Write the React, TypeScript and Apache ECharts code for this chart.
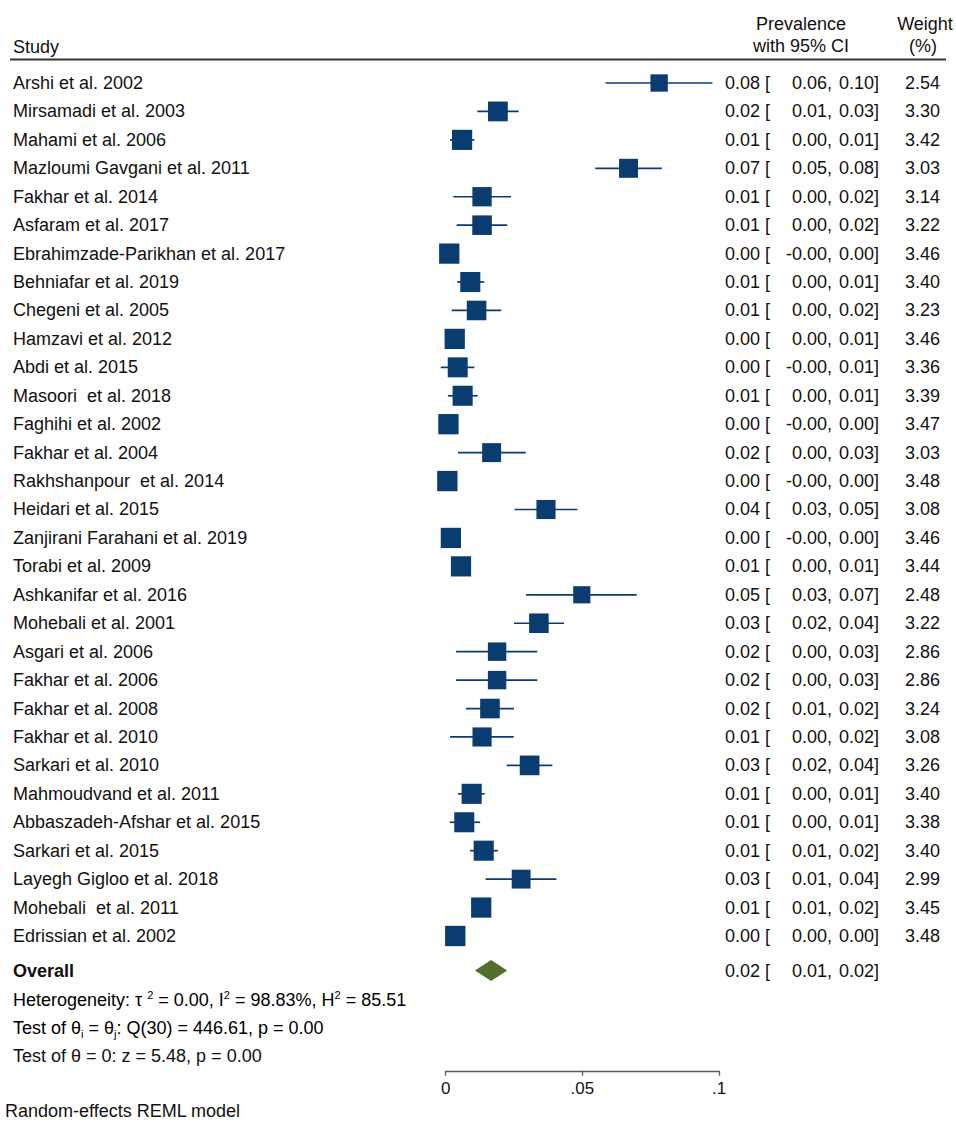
import React, { useEffect, useRef } from 'react';
import * as echarts from 'echarts';

const studies = [
  'Arshi et al. 2002',
  'Mirsamadi et al. 2003',
  'Mahami et al. 2006',
  'Mazloumi Gavgani et al. 2011',
  'Fakhar et al. 2014',
  'Asfaram et al. 2017',
  'Ebrahimzade-Parikhan et al. 2017',
  'Behniafar et al. 2019',
  'Chegeni et al. 2005',
  'Hamzavi et al. 2012',
  'Abdi et al. 2015',
  'Masoori  et al. 2018',
  'Faghihi et al. 2002',
  'Fakhar et al. 2004',
  'Rakhshanpour  et al. 2014',
  'Heidari et al. 2015',
  'Zanjirani Farahani et al. 2019',
  'Torabi et al. 2009',
  'Ashkanifar et al. 2016',
  'Mohebali et al. 2001',
  'Asgari et al. 2006',
  'Fakhar et al. 2006',
  'Fakhar et al. 2008',
  'Fakhar et al. 2010',
  'Sarkari et al. 2010',
  'Mahmoudvand et al. 2011',
  'Abbaszadeh-Afshar et al. 2015',
  'Sarkari et al. 2015',
  'Layegh Gigloo et al. 2018',
  'Mohebali  et al. 2011',
  'Edrissian et al. 2002',
];

const estimates = [
  0.0781, 0.0191, 0.006, 0.0669, 0.0133, 0.0133, 0.0013, 0.009, 0.0113, 0.0033,
  0.0044, 0.0062, 0.001, 0.0168, 0.0006, 0.0367, 0.0019, 0.0056, 0.0498, 0.0341,
  0.0188, 0.0188, 0.0162, 0.0133, 0.0307, 0.0095, 0.0068, 0.0139, 0.0276, 0.013,
  0.0035,
];
const lowerCI = [
  0.0585, 0.0116, 0.0016, 0.0547, 0.0028, 0.004, -0.0004, 0.0042, 0.0022, 0.0005,
  -0.0018, 0.0008, -0.0005, 0.0045, -0.0004, 0.0252, -0.0004, 0.002, 0.0294, 0.025,
  0.0038, 0.0038, 0.0074, 0.0016, 0.0223, 0.0045, 0.0015, 0.0089, 0.0146, 0.01,
  0.001,
];
const upperCI = [
  0.0976, 0.0267, 0.0105, 0.0791, 0.0239, 0.0225, 0.003, 0.0141, 0.0203, 0.0062,
  0.0105, 0.0117, 0.0025, 0.0293, 0.0016, 0.0482, 0.0042, 0.0092, 0.0699, 0.0433,
  0.0335, 0.0335, 0.025, 0.0249, 0.039, 0.0143, 0.0126, 0.0191, 0.0405, 0.016,
  0.006,
];
const weights = [
  2.54, 3.3, 3.42, 3.03, 3.14, 3.22, 3.46, 3.4, 3.23, 3.46, 3.36, 3.39, 3.47, 3.03,
  3.48, 3.08, 3.46, 3.44, 2.48, 3.22, 2.86, 2.86, 3.24, 3.08, 3.26, 3.4, 3.38, 3.4,
  2.99, 3.45, 3.48,
];

const estLabels = [
  '0.08', '0.02', '0.01', '0.07', '0.01', '0.01', '0.00', '0.01', '0.01', '0.00',
  '0.00', '0.01', '0.00', '0.02', '0.00', '0.04', '0.00', '0.01', '0.05', '0.03',
  '0.02', '0.02', '0.02', '0.01', '0.03', '0.01', '0.01', '0.01', '0.03', '0.01',
  '0.00',
];
const lowerLabels = [
  '0.06', '0.01', '0.00', '0.05', '0.00', '0.00', '-0.00', '0.00', '0.00', '0.00',
  '-0.00', '0.00', '-0.00', '0.00', '-0.00', '0.03', '-0.00', '0.00', '0.03', '0.02',
  '0.00', '0.00', '0.01', '0.00', '0.02', '0.00', '0.00', '0.01', '0.01', '0.01',
  '0.00',
];
const upperLabels = [
  '0.10', '0.03', '0.01', '0.08', '0.02', '0.02', '0.00', '0.01', '0.02', '0.01',
  '0.01', '0.01', '0.00', '0.03', '0.00', '0.05', '0.00', '0.01', '0.07', '0.04',
  '0.03', '0.03', '0.02', '0.02', '0.04', '0.01', '0.01', '0.02', '0.04', '0.02',
  '0.00',
];
const weightLabels = [
  '2.54', '3.30', '3.42', '3.03', '3.14', '3.22', '3.46', '3.40', '3.23', '3.46',
  '3.36', '3.39', '3.47', '3.03', '3.48', '3.08', '3.46', '3.44', '2.48', '3.22',
  '2.86', '2.86', '3.24', '3.08', '3.26', '3.40', '3.38', '3.40', '2.99', '3.45',
  '3.48',
];

// overall: lower, estimate, upper
const overallValues = [0.0107, 0.0166, 0.0225];
const overallLabels = ['0.02', '0.01', '0.02'];

const xTicks = [0, 0.05, 0.1];
const xTickLabels = ['0', '.05', '.1'];

const FONT = "'Liberation Sans', Arial, sans-serif";
const NAVY = '#0a3c70';
const OLIVE = '#52702b';

const GRID_LEFT = 445.7;
const GRID_WIDTH = 273.3;
const GRID_TOP = 54.57;
const ROW_STEP = 28.433;
const Y_MAX = 35.74;
const OVERALL_ROW = 32.21;
const rowY = (i: number) => GRID_TOP + i * ROW_STEP;

const txt = (
  text: string,
  x: number,
  y: number,
  align: string = 'left',
  extra: any = {}
) => ({
  type: 'text',
  x,
  y,
  silent: true,
  style: {
    text,
    fontSize: 18,
    fontFamily: FONT,
    fill: '#111',
    align,
    verticalAlign: 'middle',
    ...extra,
  },
});

const richStyles = {
  t: { fontSize: 18, fontFamily: FONT, color: '#111', lineHeight: 22 },
  sup: { fontSize: 11, fontFamily: FONT, color: '#111', lineHeight: 12, verticalAlign: 'top' },
  sub: { fontSize: 11, fontFamily: FONT, color: '#111', lineHeight: 12, verticalAlign: 'bottom' },
};

export default function App() {
  const ref = useRef<HTMLDivElement>(null);

  useEffect(() => {
    if (!ref.current) return;
    const chart = echarts.init(ref.current, undefined, { renderer: 'svg' });

    const squareData = estimates.map((e, i) => [e, i + 1, weights[i]]);
    const whiskerData = estimates.map((_, i) => [lowerCI[i], upperCI[i], i + 1]);

    const graphics: any[] = [];
    // header
    graphics.push(txt('Study', 13, 47));
    graphics.push(txt('Prevalence', 801, 24, 'center'));
    graphics.push(txt('with 95% CI', 801, 46, 'center'));
    graphics.push(txt('Weight', 925, 24, 'center'));
    graphics.push(txt('(%)', 923, 46, 'center'));
    graphics.push({
      type: 'line',
      silent: true,
      shape: { x1: 10, y1: 59.5, x2: 946, y2: 59.5 },
      style: { stroke: '#333', lineWidth: 2 },
    });

    studies.forEach((s, i) => {
      const y = rowY(i + 1);
      graphics.push(txt(s, 13, y));
      graphics.push(txt(estLabels[i] + ' [', 725, y));
      graphics.push(txt(lowerLabels[i] + ',', 832, y, 'right'));
      graphics.push(txt(upperLabels[i] + ']', 879, y, 'right'));
      graphics.push(txt(weightLabels[i], 940, y, 'right'));
    });

    const oy = rowY(OVERALL_ROW) + 1;
    graphics.push(txt('Overall', 13, oy, 'left', { fontWeight: 'bold' }));
    graphics.push(txt(overallLabels[0] + ' [', 725, oy));
    graphics.push(txt(overallLabels[1] + ',', 832, oy, 'right'));
    graphics.push(txt(overallLabels[2] + ']', 879, oy, 'right'));

    graphics.push({
      type: 'text',
      x: 13,
      y: 1000,
      silent: true,
      style: {
        text:
          '{t|Heterogeneity: τ }{sup|2}{t| = 0.00, I}{sup|2}{t| = 98.83%, H}{sup|2}{t| = 85.51}',
        rich: richStyles,
        verticalAlign: 'middle',
        align: 'left',
      },
    });
    graphics.push({
      type: 'text',
      x: 13,
      y: 1028,
      silent: true,
      style: {
        text: '{t|Test of θ}{sub|i}{t| = θ}{sub|j}{t|: Q(30) = 446.61, p = 0.00}',
        rich: richStyles,
        verticalAlign: 'middle',
        align: 'left',
      },
    });
    graphics.push(txt('Test of θ = 0: z = 5.48, p = 0.00', 13, 1056));
    graphics.push(txt('Random-effects REML model', 5, 1111));

    chart.setOption({
      animation: false,
      backgroundColor: '#fff',
      grid: {
        left: GRID_LEFT,
        top: GRID_TOP,
        width: GRID_WIDTH,
        height: Y_MAX * ROW_STEP,
        containLabel: false,
      },
      xAxis: {
        type: 'value',
        min: 0,
        max: 0.1,
        interval: 0.05,
        position: 'bottom',
        axisLine: { show: true, onZero: false, lineStyle: { color: '#5a5a5a', width: 1.3 } },
        axisTick: { show: true, length: 5, inside: false, lineStyle: { color: '#5a5a5a', width: 1.3 } },
        splitLine: { show: false },
        axisLabel: {
          margin: 9,
          fontSize: 17,
          fontFamily: FONT,
          color: '#111',
          formatter: (v: number) => {
            const k = xTicks.findIndex((t) => Math.abs(t - v) < 1e-9);
            return k >= 0 ? xTickLabels[k] : '';
          },
        },
      },
      yAxis: {
        type: 'value',
        min: 0,
        max: Y_MAX,
        inverse: true,
        show: false,
        splitLine: { show: false },
      },
      series: [
        {
          type: 'custom',
          name: 'CI',
          data: whiskerData,
          encode: { x: [0, 1], y: 2 },
          z: 2,
          renderItem: (params: any, api: any) => {
            const p1 = api.coord([api.value(0), api.value(2)]);
            const p2 = api.coord([api.value(1), api.value(2)]);
            return {
              type: 'line',
              shape: { x1: p1[0], y1: p1[1], x2: p2[0], y2: p2[1] },
              style: { stroke: NAVY, lineWidth: 1.7 },
            };
          },
        },
        {
          type: 'scatter',
          name: 'Prevalence',
          data: squareData,
          symbol: 'rect',
          symbolSize: (val: number[]) => Math.sqrt(val[2]) * 10.9,
          itemStyle: { color: NAVY, opacity: 1 },
          z: 3,
        },
        {
          type: 'custom',
          name: 'Overall',
          data: [[overallValues[0], overallValues[1], overallValues[2], OVERALL_ROW]],
          encode: { x: [0, 1, 2], y: 3 },
          z: 3,
          renderItem: (params: any, api: any) => {
            const row = api.value(3);
            const pl = api.coord([api.value(0), row]);
            const pc = api.coord([api.value(1), row]);
            const pr = api.coord([api.value(2), row]);
            const h = 10.5;
            return {
              type: 'polygon',
              shape: {
                points: [
                  [pl[0], pl[1]],
                  [pc[0], pc[1] - h],
                  [pr[0], pr[1]],
                  [pc[0], pc[1] + h],
                ],
              },
              style: { fill: OLIVE },
            };
          },
        },
      ],
      graphic: graphics,
    });

    return () => chart.dispose();
  }, []);

  return (
    <div
      ref={ref}
      style={{ position: 'absolute', left: 0, top: 0, width: 956, height: 1123, background: '#fff' }}
    />
  );
}
